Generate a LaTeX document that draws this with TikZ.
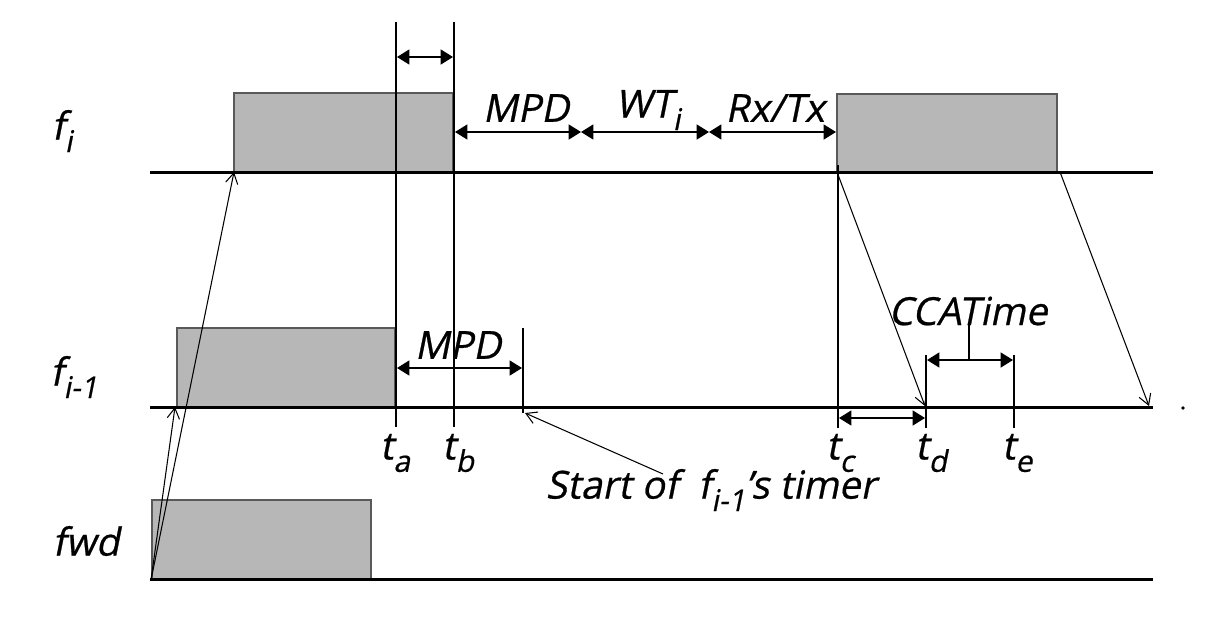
\documentclass[tikz,border=0pt]{standalone}
\usepackage{fontspec}
\newfontfamily\lab{Open Sans}[FakeSlant=0.2,FakeBold=0.6]
\usetikzlibrary{arrows.meta}
\definecolor{pktgray}{HTML}{B7B7B7}
\newcommand\sbx[1]{\raisebox{-0.6ex}{\fontsize{17}{17}\selectfont #1}}
\begin{document}
\begin{tikzpicture}[x=0.02cm,y=-0.02cm,
  tl/.style={line width=1.7pt},
  pkt/.style={fill=pktgray, draw=black!65, line width=0.6pt},
  vline/.style={line width=0.8pt},
  dim/.style={line width=0.8pt, {Triangle[length=7pt,width=8.5pt]}-{Triangle[length=7pt,width=8.5pt]}},
  msg/.style={line width=0.6pt, -{Straight Barb[length=6pt,width=7pt]}},
  txt/.style={font=\lab\fontsize{22}{26}\selectfont, inner sep=0pt}
]
\useasboundingbox (0,0) rectangle (1226,623);

% timelines
\coordinate (fiL) at (150,172); \coordinate (fiR) at (1153,172);
\coordinate (fmL) at (150,407); \coordinate (fmR) at (1153,407);
\coordinate (fwL) at (150,579); \coordinate (fwR) at (1153,579);

% packet boxes
\coordinate (b1sw) at (234,172); \coordinate (b1ne) at (453,93);
\coordinate (b2sw) at (837,172); \coordinate (b2ne) at (1057,94);
\coordinate (b3sw) at (177,407); \coordinate (b3ne) at (395,328);
\coordinate (b4sw) at (152,579); \coordinate (b4ne) at (371,500);
\draw[pkt] (b1sw) rectangle (b1ne);
\draw[pkt] (b2sw) rectangle (b2ne);
\draw[pkt] (b3sw) rectangle (b3ne);
\draw[pkt] (b4sw) rectangle (b4ne);

\draw[tl] (fiL) -- (fiR);
\draw[tl] (fmL) -- (fmR);
\draw[tl] (fwL) -- (fwR);

% vertical time markers
\coordinate (taT) at (396,22);  \coordinate (taB) at (396,427);
\coordinate (tbT) at (454,22);  \coordinate (tbB) at (454,427);
\coordinate (tcT) at (838,165); \coordinate (tcB) at (838,428);
\coordinate (tdT) at (926,355); \coordinate (tdB) at (926,428);
\coordinate (teT) at (1014,355); \coordinate (teB) at (1014,428);
\coordinate (mpT) at (523,328); \coordinate (mpB) at (523,413);
\draw[vline] (taT) -- (taB);
\draw[vline] (tbT) -- (tbB);
\draw[vline] (tcT) -- (tcB);
\draw[vline] (tdT) -- (tdB);
\draw[vline] (teT) -- (teB);
\draw[vline] (mpT) -- (mpB);

% dimension arrows
\coordinate (abL) at (397,57); \coordinate (abR) at (453,57);
\draw[dim] (abL) -- (abR);
\coordinate (d1) at (455,132); \coordinate (d2) at (581,132);
\coordinate (d3) at (709,132); \coordinate (d4) at (836,132);
\draw[dim] (d1) -- (d2);
\draw[dim] (d2) -- (d3);
\draw[dim] (d3) -- (d4);
\coordinate (m1) at (397,368); \coordinate (m2) at (522,368);
\draw[dim] (m1) -- (m2);
\coordinate (cd1) at (839,418); \coordinate (cd2) at (925,418);
\draw[dim] (cd1) -- (cd2);
\coordinate (cc1) at (927,360); \coordinate (cc2) at (1013,360);
\draw[dim] (cc1) -- (cc2);
\coordinate (ccm) at (969,360); \coordinate (cct) at (969,325);
\draw[vline] (ccm) -- (cct);

% message arrows
\coordinate (fwO) at (151,580);
\coordinate (fmA) at (175,407);
\draw[msg] (fwO) -- (b1sw);
\draw[msg] (fwO) -- (fmA);
\coordinate (tdA) at (925,406);
\draw[msg] (b2sw) -- (tdA);
\coordinate (b2se) at (1060,172); \coordinate (endA) at (1149,406);
\draw[msg] (b2se) -- (endA);
\coordinate (stT) at (663,474); \coordinate (stH) at (525,413);
\draw[msg] (stT) -- (stH);
\coordinate (dot) at (1183,408);
\fill (dot) circle (1.1pt);

% labels
\node[txt] (lfi) at (62,131) {f\sbx{i}};
\node[txt] (lfm) at (74,377) {f\sbx{i-1}};
\node[txt] (lfw) at (86,541) {fwd};
\node[txt] (lmpd) at (526,108) {MPD};
\node[txt] (lwt) at (648,110) {WT\sbx{i}};
\node[txt] (lrx) at (775,108) {Rx/Tx};
\node[txt] (lmpd2) at (458,345) {MPD};
\node[txt] (lcca) at (968,311) {CCATime};
\node[txt] (lta) at (395,453) {t\sbx{a}};
\node[txt] (ltb) at (458,453) {t\sbx{b}};
\node[txt] (ltc) at (840,453) {t\sbx{c}};
\node[txt] (ltd) at (931,453) {t\sbx{d}};
\node[txt] (lte) at (1017,453) {t\sbx{e}};
\node[txt] (lst) at (711,490) {Start of \ f\sbx{i-1}’s timer};
\end{tikzpicture}
\end{document}
